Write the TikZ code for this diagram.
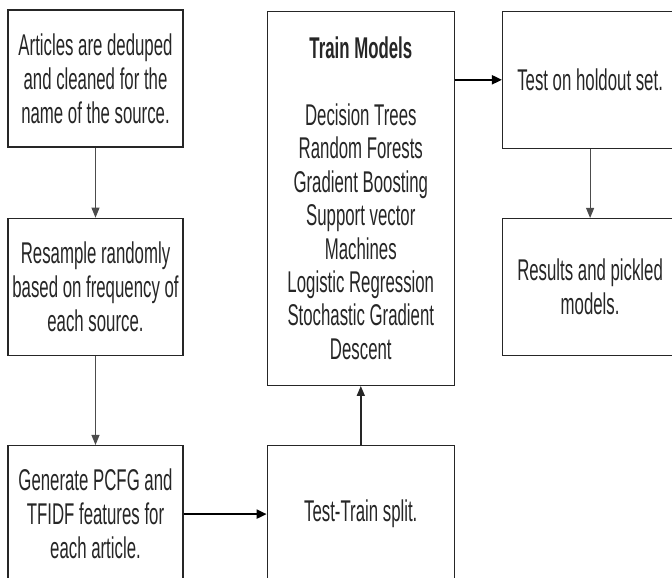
\documentclass[tikz,border=0pt]{standalone}
\usepackage{fontspec}
\usepackage{tikz}
\usetikzlibrary{arrows.meta,positioning}
\newfontfamily\flowfont{Liberation Sans}[FakeStretch=0.56]

\begin{document}
\begin{tikzpicture}[x=1pt, y=1pt,
  box/.style={draw=black!85, line width=1.3pt, minimum width=175pt, minimum height=137pt,
              inner sep=0pt, align=center, font=\flowfont\fontsize{30}{34}\selectfont, text=black!85},
  wbox/.style={box, minimum width=187pt},
  arr/.style={-{Triangle[length=10pt, width=8pt]}, line width=1pt, black!70},
  harr/.style={-{Triangle[length=10pt, width=9pt]}, line width=2pt, black}
]
  \useasboundingbox (0,0) rectangle (672,-578);
  \node[box] (art) at (95.5,-78.5) {Articles are deduped\\and cleaned for the\\name of the source.};
  \node[box, below=70pt of art] (res) {Resample randomly\\based on frequency of\\each source.};
  \node[box, below=89pt of res] (gen) {Generate PCFG and\\TFIDF features for\\each article.};
  \node[wbox, right=83pt of gen] (split) {Test-Train split.};
  \node[wbox, minimum height=374pt, above=59pt of split, font=\flowfont\fontsize{30}{33.4}\selectfont] (train)
    {\textbf{Train Models}\\[33.4pt]Decision Trees\\Random Forests\\Gradient Boosting\\Support vector\\Machines\\Logistic Regression\\Stochastic Gradient\\Descent};
  \node[box, anchor=north west] (hold) at ([xshift=47pt]train.north east) {Test on holdout set.};
  \node[box, below=69pt of hold] (out) {Results and pickled\\models.};

  \draw[arr]  (art)   -- (res);
  \draw[arr]  (res)   -- (gen);
  \draw[harr] (gen)   -- (split);
  \draw[arr, line width=1.5pt, black!85] (split) -- (train);
  \draw[harr] (train.east |- hold) -- (hold);
  \draw[arr]  (hold)  -- (out);
\end{tikzpicture}
\end{document}
